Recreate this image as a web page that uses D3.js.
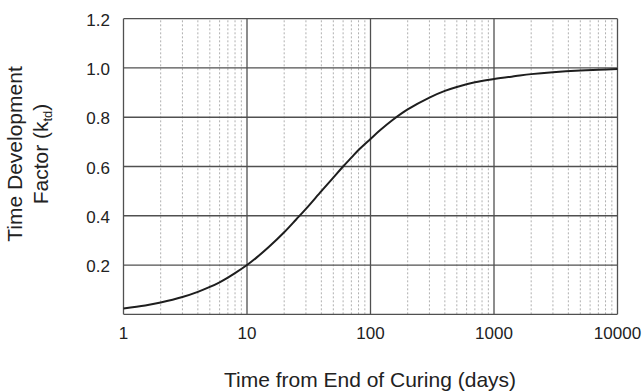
<!DOCTYPE html>
<html>
<head>
<meta charset="utf-8">
<script src="https://cdn.jsdelivr.net/npm/d3@7"></script>
<style>
  body { margin: 0; background: #fff; }
  text { font-family: "Liberation Sans", Arial, sans-serif; fill: #222; }
</style>
</head>
<body>
<div id="chart"></div>
<script>
// values (days vs. k_td)
var days = [1, 1.5, 2, 3, 4, 5, 6, 7, 8, 10, 12, 15, 20, 25, 30, 40, 50, 60, 70, 80, 100, 120, 150, 200, 300, 400, 500, 700, 1000, 1500, 2000, 3000, 5000, 7000, 10000];
var ktd  = [0.024, 0.036, 0.048, 0.070, 0.091, 0.111, 0.130, 0.149, 0.167, 0.200, 0.231, 0.273, 0.333, 0.385, 0.428, 0.500, 0.555, 0.600, 0.636, 0.667, 0.712, 0.748, 0.788, 0.832, 0.880, 0.907, 0.923, 0.942, 0.955, 0.967, 0.975, 0.983, 0.990, 0.993, 0.996];
var xTicks = [1, 10, 100, 1000, 10000];
var yTicks = [0.2, 0.4, 0.6, 0.8, 1.0, 1.2];

var w = 643, h = 392;
var margin = {left: 123.5, right: 25.5, top: 18.7, bottom: 77.7};

var svg = d3.select('#chart').append('svg')
    .attr('width', w)
    .attr('height', h);

var x = d3.scaleLog()
    .domain([1, 10000])
    .range([margin.left, w - margin.right]);

var y = d3.scaleLinear()
    .domain([0, 1.2])
    .range([h - margin.bottom, margin.top]);

// minor grid: 2..9 of every decade
var minor = [];
xTicks.slice(0, -1).forEach(function(d) {
    for (var k = 2; k <= 9; k++) minor.push(d * k);
});

svg.selectAll('.minor')
    .data(minor)
    .enter()
    .append('line')
    .attr('class', 'minor')
    .attr('x1', function(d) { return x(d); })
    .attr('x2', function(d) { return x(d); })
    .attr('y1', y(0))
    .attr('y2', y(1.2))
    .style('stroke', '#b0b0b0')
    .style('stroke-width', 1)
    .style('stroke-dasharray', '2,2');

// major grid
svg.selectAll('.hgrid')
    .data([0].concat(yTicks))
    .enter()
    .append('line')
    .attr('x1', x(1))
    .attr('x2', x(10000))
    .attr('y1', function(d) { return y(d); })
    .attr('y2', function(d) { return y(d); })
    .style('stroke', '#505050')
    .style('stroke-width', 1.3);

svg.selectAll('.vgrid')
    .data(xTicks)
    .enter()
    .append('line')
    .attr('x1', function(d) { return x(d); })
    .attr('x2', function(d) { return x(d); })
    .attr('y1', y(0))
    .attr('y2', y(1.2))
    .style('stroke', '#505050')
    .style('stroke-width', 1.3);

// curve
var line = d3.line()
    .x(function(d, i) { return x(days[i]); })
    .y(function(d) { return y(d); })
    .curve(d3.curveCatmullRom.alpha(0.5));

svg.append('path')
    .datum(ktd)
    .attr('d', line)
    .style('fill', 'none')
    .style('stroke', '#1e1e1e')
    .style('stroke-width', 2);

// tick labels
svg.selectAll('.ylab')
    .data(yTicks)
    .enter()
    .append('text')
    .attr('x', 110)
    .attr('y', function(d) { return y(d) + 7; })
    .attr('text-anchor', 'end')
    .style('font-size', '17px')
    .text(function(d) { return d3.format('.1f')(d); });

svg.selectAll('.xlab')
    .data(xTicks)
    .enter()
    .append('text')
    .attr('x', function(d) { return x(d); })
    .attr('y', 339)
    .attr('text-anchor', 'middle')
    .style('font-size', '17px')
    .text(function(d) { return d; });

// axis titles
svg.append('text')
    .attr('x', 370)
    .attr('y', 387)
    .attr('text-anchor', 'middle')
    .style('font-size', '21px')
    .text('Time from End of Curing (days)');

var yt = svg.append('g')
    .attr('transform', 'translate(0,154) rotate(-90)');

yt.append('text')
    .attr('x', 0)
    .attr('y', 22)
    .attr('text-anchor', 'middle')
    .style('font-size', '21px')
    .text('Time Development');

var t2 = yt.append('text')
    .attr('x', 0)
    .attr('y', 48)
    .attr('text-anchor', 'middle')
    .style('font-size', '21px');
t2.append('tspan').text('Factor (k');
t2.append('tspan').attr('dy', 4).style('font-size', '13px').text('td');
t2.append('tspan').attr('dy', -4).text(')');
</script>
</body>
</html>
